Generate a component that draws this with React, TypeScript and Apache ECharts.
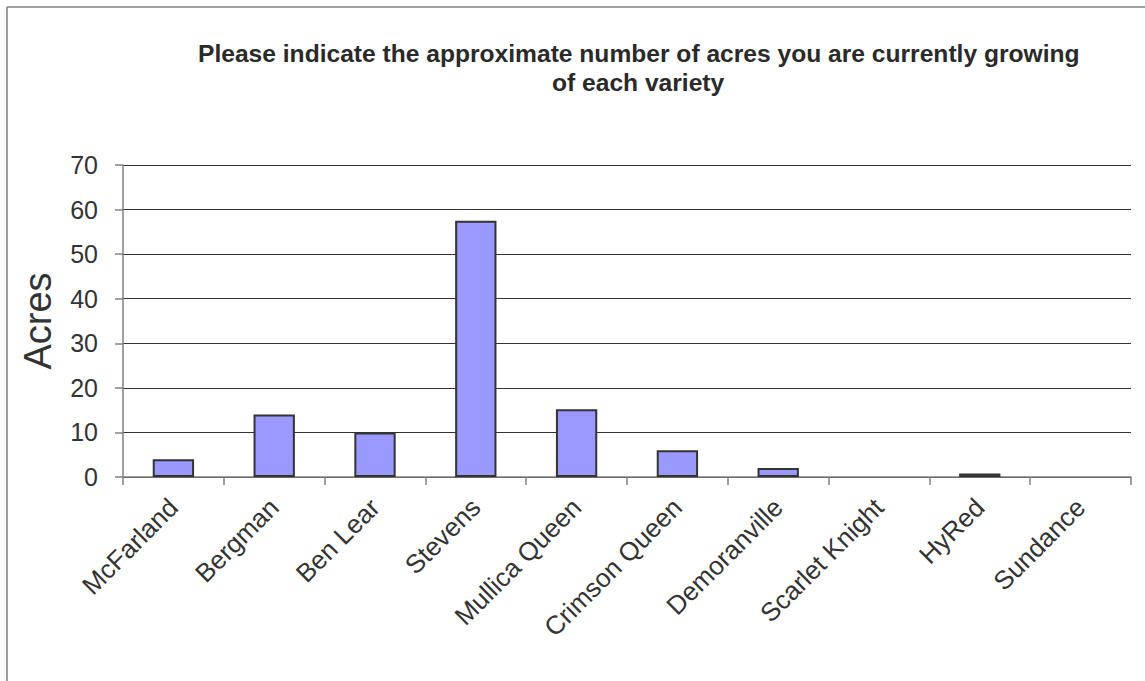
import React, { useEffect, useRef } from "react";
import * as echarts from "echarts";

const categories = [
  "McFarland",
  "Bergman",
  "Ben Lear",
  "Stevens",
  "Mullica Queen",
  "Crimson Queen",
  "Demoranville",
  "Scarlet Knight",
  "HyRed",
  "Sundance",
];
const acres = [4, 14, 10, 57.5, 15.2, 6, 2, 0, 0.8, 0];
const titleLine1 = "Please indicate the approximate number of acres you are currently growing";
const titleLine2 = "of each variety";
const yAxisName = "Acres";

const FONT = "'Liberation Sans', Arial, sans-serif";

export default function App() {
  const ref = useRef<HTMLDivElement>(null);
  useEffect(() => {
    document.body.style.margin = "0";
    const chart = echarts.init(ref.current!, undefined, { renderer: "svg" });
    chart.setOption({
      animation: false,
      backgroundColor: "#ffffff",
      textStyle: { fontFamily: FONT },
      title: [
        {
          text: titleLine1,
          left: 193,
          top: 36,
          textStyle: { fontFamily: FONT, fontSize: 24.6, fontWeight: "bold", color: "#2a2a2a" },
        },
        {
          text: titleLine2,
          left: 547,
          top: 65,
          textStyle: { fontFamily: FONT, fontSize: 24.6, fontWeight: "bold", color: "#2a2a2a" },
        },
      ],
      graphic: [
        {
          type: "line",
          shape: { x1: 7, y1: 7, x2: 1145, y2: 7 },
          style: { stroke: "#808080", lineWidth: 1.5 },
        },
        {
          type: "line",
          shape: { x1: 7, y1: 7, x2: 7, y2: 681 },
          style: { stroke: "#808080", lineWidth: 1.5 },
        },
      ],
      grid: { left: 123, right: 14, top: 165, bottom: 204, containLabel: false },
      xAxis: {
        type: "category",
        data: categories,
        axisLine: { lineStyle: { color: "#808080", width: 1.5 } },
        axisTick: { show: true, length: 8, alignWithLabel: false, lineStyle: { color: "#808080", width: 1.5 } },
        axisLabel: {
          rotate: 45,
          interval: 0,
          margin: 26,
          fontSize: 26,
          color: "#333",
          fontFamily: FONT,
        },
      },
      yAxis: {
        type: "value",
        min: 0,
        max: 70,
        interval: 10,
        name: yAxisName,
        nameLocation: "middle",
        nameGap: 66,
        nameTextStyle: { fontSize: 38, color: "#333", fontFamily: FONT },
        axisLine: { show: true, lineStyle: { color: "#808080", width: 1.5 } },
        axisTick: { show: true, length: 8, lineStyle: { color: "#808080", width: 1.5 } },
        axisLabel: { fontSize: 25, color: "#333", margin: 25, fontFamily: FONT },
        splitLine: { show: true, lineStyle: { color: "#333", width: 1.2 } },
      },
      series: [
        {
          type: "bar",
          data: acres.map((v) => (v === 0 ? null : v)),
          barWidth: "41%",
          itemStyle: { color: "#9999FF", borderColor: "#333333", borderWidth: 2 },
        },
      ],
    });
    return () => chart.dispose();
  }, []);
  return <div ref={ref} style={{ width: 1145, height: 681, overflow: "hidden" }} />;
}
